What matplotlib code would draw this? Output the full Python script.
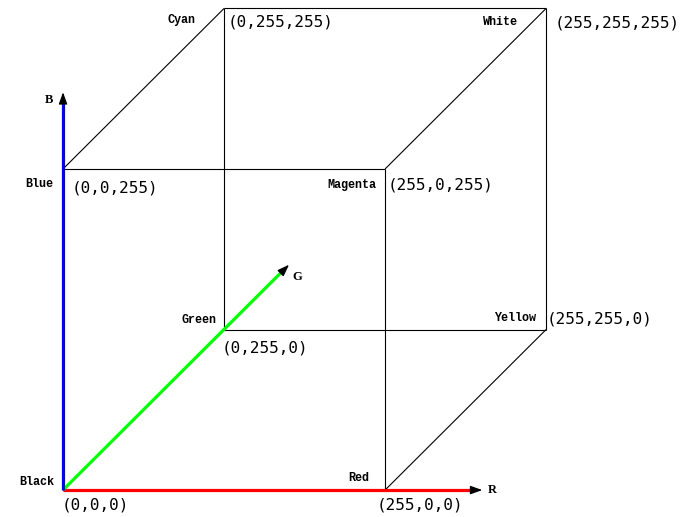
import matplotlib
matplotlib.use("Agg")
import matplotlib.pyplot as plt

# ---- data: RGB cube vertices (r, g, b) ----
vertex_names = ["Black", "Red", "Green", "Yellow", "Blue", "Magenta", "Cyan", "White"]
vertex_r = [0, 255, 0, 255, 0, 255, 0, 255]
vertex_g = [0, 0, 255, 255, 0, 0, 255, 255]
vertex_b = [0, 0, 0, 0, 255, 255, 255, 255]
vertex_labels = ["(0,0,0)", "(255,0,0)", "(0,255,0)", "(255,255,0)",
                 "(0,0,255)", "(255,0,255)", "(0,255,255)", "(255,255,255)"]
edges = [("Black", "Red"), ("Black", "Green"), ("Black", "Blue"),
         ("Red", "Yellow"), ("Red", "Magenta"), ("Green", "Yellow"),
         ("Green", "Cyan"), ("Blue", "Magenta"), ("Blue", "Cyan"),
         ("Yellow", "White"), ("Magenta", "White"), ("Cyan", "White")]
axis_names = ["R", "G", "B"]
axis_lengths = [332, 358, 316]

# ---- styles / layout ----
axis_colors = {"R": "#ff0000", "G": "#00ff00", "B": "#0000ff"}
OBL = 0.5  # cabinet projection factor for G (45 degrees)

def proj(r, g, b):
    return r + OBL * g, b + OBL * g

# text offsets in pixels (name offset, coord offset) per vertex
name_off = {"Black": (-9, 8), "Red": (-16, 12), "Green": (-8, 10), "Yellow": (-10, 12),
            "Blue": (-10, -15), "Magenta": (-9, -16), "Cyan": (-29, -12), "White": (-28, -14)}
coord_off = {"Black": (-1, -15), "Red": (-8, -15), "Green": (-2, -18), "Yellow": (1, 11),
             "Blue": (9, -19), "Magenta": (3, -16), "Cyan": (4, -14), "White": (9, -15)}
axis_label_off = {"R": (10, 0), "G": (8, -12), "B": (-14, -8)}

fig = plt.figure(figsize=(6.82, 5.17), dpi=100)
ax = fig.add_axes([0, 0, 1, 1])
ax.set_xlim(-49.9, 490.1)
ax.set_ylim(-21.4, 389.2)
ax.axis("off")

pos = {n: proj(r, g, b) for n, r, g, b in zip(vertex_names, vertex_r, vertex_g, vertex_b)}

for a, b in edges:
    (x0, y0), (x1, y1) = pos[a], pos[b]
    ax.plot([x0, x1], [y0, y1], color="black", lw=0.8, solid_capstyle="butt", zorder=1)

# axes with black arrowheads
for name, length in zip(axis_names, axis_lengths):
    vec = {"R": (length, 0, 0), "G": (0, length, 0), "B": (0, 0, length)}[name]
    tx, ty = proj(*vec)
    ux, uy = tx / (tx**2 + ty**2) ** 0.5, ty / (tx**2 + ty**2) ** 0.5
    head = 7.0
    bx, by = tx - ux * head, ty - uy * head
    ax.plot([0, bx], [0, by], color=axis_colors[name], lw=2.3, solid_capstyle="butt", zorder=3)
    ax.annotate("", xy=(tx, ty), xytext=(bx, by),
                arrowprops=dict(arrowstyle="-|>,head_length=0.7,head_width=0.25",
                                color="black", lw=1, mutation_scale=10,
                                shrinkA=0, shrinkB=0), zorder=4)
    dx, dy = axis_label_off[name]
    ax.annotate(name, xy=(tx, ty), xytext=(dx, dy), textcoords="offset pixels",
                ha="center", va="center", fontsize=9, fontweight="bold",
                family="Liberation Serif")

for n, lab in zip(vertex_names, vertex_labels):
    x, y = pos[n]
    dx, dy = name_off[n]
    ax.annotate(n, xy=(x, y), xytext=(dx, dy), textcoords="offset pixels",
                ha="right", va="center", fontsize=8.5, fontweight="bold",
                family="Liberation Mono")
    dx, dy = coord_off[n]
    ax.annotate(lab, xy=(x, y), xytext=(dx, dy), textcoords="offset pixels",
                ha="left", va="center", fontsize=11.5, family="DejaVu Sans Mono")

fig.savefig("out.png", dpi=100)
